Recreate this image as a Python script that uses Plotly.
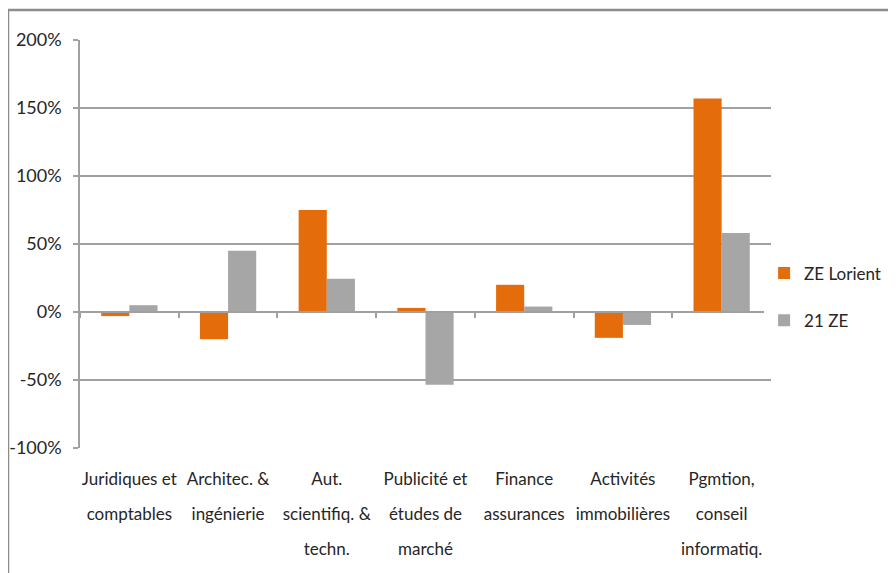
import plotly.graph_objects as go

categories = [
    "Juridiques et<br>comptables",
    "Architec. &<br>ingénierie",
    "Aut.<br>scientifiq. &<br>techn.",
    "Publicité et<br>études de<br>marché",
    "Finance<br>assurances",
    "Activités<br>immobilières",
    "Pgmtion,<br>conseil<br>informatiq.",
]
ze_lorient = [-0.03, -0.20, 0.75, 0.03, 0.20, -0.19, 1.57]
ze_21 = [0.05, 0.45, 0.245, -0.535, 0.04, -0.095, 0.58]
y_ticks = [-1.0, -0.5, 0.0, 0.5, 1.0, 1.5, 2.0]
y_tick_text = ["-100%", "-50%", "0%", "50%", "100%", "150%", "200%"]

FONT = "Lato, sans-serif"
TXT = "#262626"
GRID = "#a0a0a0"

ymin, ymax = -1.0, 2.0

# tick label text: smaller glyphs inside a larger line box for wider line spacing
tick_labels = ["<br>".join(f"<span style='font-size:17px'>{p}</span>" for p in c.split("<br>"))
               for c in categories]

fig = go.Figure()
fig.add_trace(go.Bar(name="ZE Lorient", x=categories, y=ze_lorient,
                     marker=dict(color="#E46C0A", line=dict(width=0)),
                     legendgroup="a"))
fig.add_trace(go.Bar(name="21 ZE", x=categories, y=ze_21,
                     marker=dict(color="#A6A6A6", line=dict(width=0)),
                     legendgroup="b"))

n = len(categories)
zero_pos = (0 - ymin) / (ymax - ymin)

fig.update_layout(
    width=888, height=565,
    margin=dict(l=72, r=125, t=32, b=125, autoexpand=False),
    paper_bgcolor="white", plot_bgcolor="white",
    barmode="group", bargap=0.43, bargroupgap=0,
    font=dict(family=FONT, color=TXT, size=17),
    showlegend=True,
    legend=dict(x=0.99, y=0.37, xanchor="left", yanchor="middle",
                font=dict(size=17, color=TXT), tracegroupgap=22,
                traceorder="grouped", itemwidth=30),
    xaxis=dict(type="category", showline=False, ticks="", showgrid=False,
               tickangle=0, automargin=False,
               tickmode="array", tickvals=categories, ticktext=tick_labels,
               ticklabelstandoff=9,
               tickfont=dict(size=27, family=FONT, color=TXT),
               range=[-0.5, n - 0.5]),
    xaxis2=dict(overlaying="x", anchor="free", position=zero_pos,
                range=[-0.5, n - 0.5], tickvals=[i - 0.5 for i in range(n + 1)],
                showticklabels=False, ticks="outside", ticklen=5, tickcolor=GRID,
                tickwidth=1.5, showline=True, linecolor=GRID, linewidth=1.5,
                showgrid=False, zeroline=False, automargin=False),
    yaxis=dict(range=[ymin, ymax], tickvals=y_ticks, ticktext=y_tick_text,
               showgrid=True, gridcolor=GRID, gridwidth=1.5, automargin=False,
               zeroline=False, showline=True, linecolor=GRID, linewidth=1.5,
               ticks="outside", ticklen=5, tickcolor=GRID, tickwidth=1.5,
               ticklabelstandoff=8,
               tickfont=dict(size=18, family=FONT, color=TXT)),
    shapes=[dict(type="rect", xref="paper", yref="paper",
                 x0=(8 - 80) / 691, x1=1.4, y0=-0.6, y1=(448 - 10) / 408,
                 line=dict(color="#8c8c8c", width=2.5), layer="below")],
)
# invisible trace so the zero-line axis (xaxis2) is drawn
fig.add_trace(go.Scatter(x=[0], y=[0], xaxis="x2", mode="markers",
                         marker=dict(opacity=0), showlegend=False, hoverinfo="skip"))

fig.write_html("out.html")
